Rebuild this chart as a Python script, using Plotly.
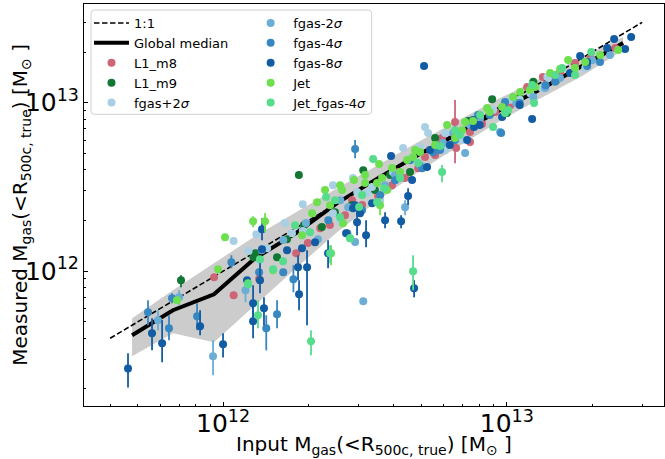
import numpy as np
import plotly.graph_objects as go

UNIT = 1e12  # all masses below are in units of 1e12 Msun

# ---------------- data ----------------
one_to_one = [0.4, 30.0]

bin_x = [0.478, 0.666, 0.929, 1.297, 1.808, 2.523, 3.518, 4.868, 6.790, 9.471, 13.21, 18.43, 25.70]
median_y = [0.417, 0.587, 0.730, 1.195, 1.682, 2.535, 3.569, 4.890, 6.607, 9.049, 12.06, 16.52, 22.63]
band_lo = [0.313, 0.428, 0.379, 0.628, 1.042, 1.705, 2.642, 3.875, 5.530, 7.785, 10.67, 14.41, 20.56]
band_hi = [0.526, 0.771, 1.116, 1.614, 2.242, 3.112, 4.264, 5.842, 7.891, 10.67, 14.02, 18.69, 24.57]

l1m8_x = [0.93, 1.09, 1.34, 1.81, 1.99, 2.38, 2.69, 3.09, 3.52, 3.94, 4.38, 4.87, 5.15, 5.59, 6.57,
          6.63, 7.42, 7.42, 8.18, 9.10, 10.3, 11.8, 13.4, 15.4, 17.4, 19.7, 5.91, 4.14, 2.85, 2.20,
          10.7, 24.1]
l1m8_y = [0.92, 0.72, 0.90, 1.28, 1.47, 1.88, 2.15, 2.47, 2.79, 3.24, 3.57, 4.09, 4.76, 4.89, 7.68,
          5.38, 5.84, 6.70, 7.47, 8.80, 9.69, 12.4, 14.2, 15.2, 17.2, 18.4, 6.17, 3.88, 2.64, 1.80,
          10.4, 21.1]
l1m8_up = [0] * 14 + [2.70] + [0] * 17
l1m8_dn = [0] * 14 + [3.30] + [0] * 17

l1m9_x = [0.711, 1.28, 1.30, 1.55, 1.68, 1.93, 2.23, 1.85, 2.48, 3.12, 3.43, 3.88, 4.56, 5.59, 6.57,
          8.88, 10.0, 12.4, 14.9, 7.31, 11.1, 2.85]
l1m9_y = [0.884, 1.21, 1.28, 1.21, 1.55, 1.88, 1.83, 3.72, 2.24, 3.98, 3.03, 3.72, 3.88, 6.17, 6.61,
          10.5, 8.69, 13.3, 13.5, 7.79, 10.7, 2.47]
l1m9_up = [0.063] + [0] * 21
l1m9_dn = [0.081] + [0] * 21

fp2_x = [1.09, 1.23, 1.31, 1.35, 1.43, 1.65, 1.75, 1.91, 1.91, 2.44, 2.44, 2.87, 2.97, 3.22, 3.35,
         3.97, 4.31, 4.95, 5.15, 5.28, 6.06, 6.96, 8.95, 11.1, 12.1, 13.3, 13.9, 17.4, 2.59, 3.58,
         6.06, 7.73, 10.3, 18.9, 4.56]
fp2_y = [1.51, 1.32, 1.66, 1.16, 1.37, 1.93, 1.68, 1.73, 2.50, 2.21, 3.24, 3.57, 2.95, 2.91, 3.16,
         3.88, 5.38, 5.46, 7.17, 6.61, 5.24, 6.00, 9.05, 10.4, 11.4, 12.2, 14.2, 15.6, 1.96, 2.64,
         6.61, 8.11, 10.4, 16.1, 4.69]
fp2_up = [0] * 35
fp2_dn = [0] * 35

fm2_x = [0.590, 0.700, 0.922, 1.20, 3.12, 1.37, 1.96, 2.16, 2.76, 2.92, 4.38, 6.47, 7.13, 9.47, 10.8,
         12.4, 20.0, 5.96, 3.72, 4.95, 15.4, 8.05, 2.59, 1.63, 4.04, 7.42, 13.65, 23.1]
fm2_y = [0.512, 0.701, 0.313, 0.771, 0.663, 1.33, 1.93, 1.55, 2.40, 1.49, 2.40, 6.61, 5.03, 6.70, 9.96,
         10.8, 17.9, 5.76, 3.24, 4.26, 14.0, 8.11, 2.64, 1.53, 3.72, 7.37, 12.23, 19.2]
fm2_up = [0.075, 0.070, 0.076, 0.113, 0, 0, 0, 0, 0, 0, 0.24] + [0] * 17
fm2_dn = [0.066, 0.073, 0.072, 0.117, 0, 0, 0, 0, 0, 0, 0.25] + [0] * 17

fm4_x = [0.544, 0.645, 0.661, 0.810, 1.07, 1.34, 1.42, 1.55, 1.63, 1.77, 2.74, 2.92, 5.50, 5.03, 7.92,
         9.86, 9.55, 3.58, 4.04, 3.09, 5.82, 13.7, 19.2, 11.1, 2.35, 4.56, 6.57, 8.70, 14.8, 21.3]
fm4_y = [0.571, 0.459, 0.691, 0.540, 1.13, 0.986, 0.459, 0.555, 0.986, 0.896, 1.68, 5.31, 5.09, 4.09, 8.45,
         10.1, 6.61, 2.83, 3.47, 2.30, 5.24, 12.7, 16.5, 9.96, 2.01, 4.56, 6.00, 8.45, 13.3, 17.45]
fm4_up = [0.102, 0.089, 0.049, 0.105, 0.114, 0, 0.089, 0.118, 0, 0.189, 0, 0.70] + [0] * 18
fm4_dn = [0.093, 0.070, 0.046, 0.094, 0.089, 0, 0.120, 0.096, 0, 0.146, 0, 0.62] + [0] * 18

fm8_x = [0.4625, 0.562, 0.610, 0.830, 1.000, 1.215, 1.276, 1.276, 1.350, 1.372, 1.372, 1.394, 1.681,
         1.838, 1.853, 1.898, 1.977, 2.110, 2.345, 2.714, 2.872, 2.967, 3.040, 3.192, 3.351, 3.724,
         3.909, 4.241, 4.489, 4.637, 4.713, 5.110, 5.236, 7.246, 7.607, 7.669, 9.625, 12.28, 16.71,
         18.13, 19.19, 22.57, 23.89, 26.12, 27.43, 2.919, 5.36, 8.03, 11.1, 6.30]
fm8_y = [0.265, 0.428, 0.374, 0.471, 0.368, 0.884, 0.645, 0.505, 0.884, 1.776, 1.351, 0.603, 1.333,
         1.056, 0.730, 1.369, 1.056, 1.487, 1.279, 1.682, 2.368, 1.955, 2.211, 1.636, 2.535, 2.009,
         4.824, 1.982, 2.791, 3.473, 0.793, 16.52, 4.149, 6.003, 7.891, 7.172, 8.222, 8.000, 15.01,
         18.95, 17.45, 21.14, 23.90, 20.85, 24.57, 2.467, 5.24, 7.37, 9.69, 5.61]
fm8_up = [0.061, 0.098, 0.138, 0.116, 0.060, 0, 0.181, 0.123, 0.278, 0.289, 0, 0.098, 0, 0.189, 0.154,
          0, 0.277, 0, 0.250, 0, 0, 0.345, 0, 0.373, 0, 0.233, 0, 0.169, 0.32, 0, 0.091] + [0] * 19
fm8_dn = [0.061, 0.089, 0.086, 0.054, 0.060, 0, 0.133, 0.105, 0.144, 0.247, 0, 0.125, 0, 0.172, 0.143,
          0, 0.578, 0, 0.237, 0, 0, 0.319, 0, 0.247, 0, 0.208, 0, 0.181, 0.32, 0, 0.092] + [0] * 19

jet_x = [0.688, 0.960, 1.016, 1.225, 1.276, 1.406, 1.501, 1.898, 2.060, 2.403, 2.649, 2.803, 2.585,
         2.628, 2.288, 2.145, 2.383, 3.166, 3.166, 3.547, 3.490, 3.635, 3.941, 4.207, 4.453, 4.675,
         4.751, 4.948, 3.785, 3.576, 2.895, 6.160, 6.957, 7.129, 7.607, 8.522, 10.52, 12.58, 14.21,
         15.41, 16.45, 9.625, 5.588, 6.574, 11.14, 18.88, 21.33, 24.68, 8.70, 12.05, 17.4]
jet_y = [0.673, 1.028, 1.592, 0.849, 1.982, 1.982, 1.014, 1.636, 2.211, 1.279, 1.929, 1.571, 3.243,
         3.029, 3.029, 2.570, 2.467, 3.719, 3.334, 4.323, 3.334, 3.569, 4.093, 3.875, 4.565, 4.758,
         5.236, 5.094, 3.029, 2.467, 3.473, 7.370, 6.870, 7.680, 7.785, 9.301, 10.81, 12.40, 15.01,
         15.86, 17.94, 9.430, 5.608, 6.170, 11.58, 17.45, 19.20, 20.56, 8.80, 11.9, 16.1]
jet_up = [0, 0, 0, 0, 0.14, 0.23, 0, 0, 0, 0.148] + [0] * 19 + [0.25] + [0] * 21
jet_dn = [0, 0, 0, 0, 0.16, 0.28, 0, 0, 0, 0.194] + [0] * 19 + [0.32] + [0] * 21

jf4_x = [1.225, 1.328, 1.350, 1.501, 1.627, 1.794, 2.026, 2.042, 2.383, 2.307, 2.482, 2.585, 2.803,
         3.016, 3.090, 3.379, 3.490, 3.694, 4.675, 4.868, 5.820, 5.914, 8.053, 8.948, 10.11, 12.28,
         12.48, 14.80, 15.66, 19.83, 4.207, 6.574, 6.83, 9.86, 17.4]
jf4_y = [0.837, 0.548, 1.178, 1.028, 1.147, 1.876, 1.705, 0.384, 1.279, 2.753, 2.642, 2.094, 1.571,
         2.401, 2.829, 4.629, 2.570, 3.112, 1.000, 4.383, 5.530, 3.875, 8.452, 7.172, 9.049, 12.74,
         9.96, 14.60, 16.08, 20.01, 3.569, 6.870, 6.43, 8.69, 14.6]
jf4_up = [0, 0.125, 0, 0, 0, 0, 0, 0.062, 0.148] + [0] * 9 + [0.245, 0, 0, 0.39] + [0] * 13
jf4_dn = [0, 0.089, 0, 0, 0, 0, 0, 0.067, 0.163] + [0] * 9 + [0.229, 0, 0, 0.50] + [0] * 13

series = [
    ("L1_m8", l1m8_x, l1m8_y, l1m8_up, l1m8_dn, "#cc6677", "legend"),
    ("L1_m9", l1m9_x, l1m9_y, l1m9_up, l1m9_dn, "#117733", "legend"),
    ("fgas+2<i>σ</i>", fp2_x, fp2_y, fp2_up, fp2_dn, "#a9cfe5", "legend"),
    ("fgas-2<i>σ</i>", fm2_x, fm2_y, fm2_up, fm2_dn, "#6aaed6", "legend2"),
    ("fgas-4<i>σ</i>", fm4_x, fm4_y, fm4_up, fm4_dn, "#3787c0", "legend2"),
    ("fgas-8<i>σ</i>", fm8_x, fm8_y, fm8_up, fm8_dn, "#125ca4", "legend2"),
    ("Jet", jet_x, jet_y, jet_up, jet_dn, "#6ee04f", "legend2"),
    ("Jet_fgas-4<i>σ</i>", jf4_x, jf4_y, jf4_up, jf4_dn, "#55dd8c", "legend2"),
]

x_title = "Input M<sub>gas</sub>(&lt;R<sub>500c, true</sub>) [M<sub>⊙</sub> ]"
y_title = "Measured M<sub>gas</sub>(&lt;R<sub>500c, true</sub>) [M<sub>⊙</sub> ]"

# ---------------- figure ----------------
def U(a):
    return np.asarray(a, dtype=float) * UNIT

fig = go.Figure()

# scatter band (filled polygon)
fig.add_trace(go.Scatter(
    x=np.concatenate([U(bin_x), U(bin_x)[::-1]]),
    y=np.concatenate([U(band_hi), U(band_lo)[::-1]]),
    fill="toself", fillcolor="#cccccc", line=dict(width=0),
    mode="lines", showlegend=False, hoverinfo="skip"))

fig.add_trace(go.Scatter(
    x=U(one_to_one), y=U(one_to_one), mode="lines", name="1:1",
    line=dict(color="black", width=1.6, dash="5.5px,2.5px"), legend="legend"))

fig.add_trace(go.Scatter(
    x=U(bin_x), y=U(median_y), mode="lines", name="Global median",
    line=dict(color="black", width=4), legend="legend"))

for name, xs, ys, up, dn, col, leg in series:
    fig.add_trace(go.Scatter(
        x=U(xs), y=U(ys), mode="markers", name=name, legend=leg,
        marker=dict(color=col, size=8, line=dict(width=0)),
        error_y=dict(type="data", symmetric=False, array=U(up), arrayminus=U(dn),
                     color=col, thickness=1.8, width=0)))

font_family = "DejaVu Sans"

axis_common = dict(
    type="log", showline=True, linecolor="black", linewidth=1, mirror=True,
    ticks="inside", ticklen=4, tickwidth=1, tickcolor="black",
    showgrid=False, zeroline=False, dtick=1, exponentformat="power",
    tickfont=dict(family=font_family, size=20, color="black"),
    minor=dict(ticks="inside", ticklen=2, tickwidth=0.8, tickcolor="black", dtick="D1", showgrid=False),
)

fig.update_xaxes(range=[11.51, 13.554], ticklabelstandoff=-4, **axis_common)
fig.update_yaxes(range=[11.2, 13.586], **axis_common)

legend_font = dict(family=font_family, size=13, color="black")

# legend frame (matplotlib-style rounded box)
x0, x1, y0, y1 = 0.0121, 0.496, 0.7256, 0.985
rx, ry = 0.006, 0.0085
frame_path = (f"M {x0+rx},{y0} L {x1-rx},{y0} Q {x1},{y0} {x1},{y0+ry} L {x1},{y1-ry} "
              f"Q {x1},{y1} {x1-rx},{y1} L {x0+rx},{y1} Q {x0},{y1} {x0},{y1-ry} "
              f"L {x0},{y0+ry} Q {x0},{y0} {x0+rx},{y0} Z")

title_font = dict(family=font_family, size=20, color="black")

fig.update_layout(
    width=665, height=459,
    margin=dict(l=84, r=1, t=4, b=53),
    paper_bgcolor="white", plot_bgcolor="white",
    font=dict(family=font_family, color="black"),
    shapes=[dict(type="path", path=frame_path, xref="paper", yref="paper",
                 line=dict(color="#d0d0d0", width=1), fillcolor="rgba(255,255,255,0.85)",
                 layer="above")],
    annotations=[
        dict(text=x_title, xref="paper", yref="paper", x=0.5, y=-0.098,
             xanchor="center", yanchor="middle", showarrow=False, font=title_font),
        dict(text=y_title, xref="paper", yref="paper", x=-0.109, y=0.5, textangle=-90,
             xanchor="center", yanchor="middle", showarrow=False, font=title_font),
    ],
    legend=dict(x=0.0086, y=0.99, xanchor="left", yanchor="top", bgcolor="rgba(0,0,0,0)",
                borderwidth=0, font=legend_font, itemwidth=35, tracegroupgap=0),
    legend2=dict(x=0.283, y=0.99, xanchor="left", yanchor="top", bgcolor="rgba(0,0,0,0)",
                 borderwidth=0, font=legend_font, itemwidth=35, tracegroupgap=0),
)

fig.write_html("out.html")
